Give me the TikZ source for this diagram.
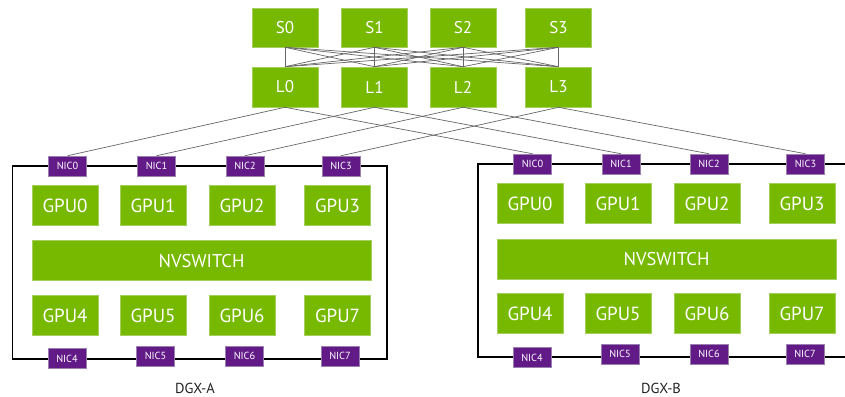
\documentclass[tikz,border=0pt]{standalone}
\usepackage{fontspec}
\setmainfont{PT Sans}
\definecolor{nvgreen}{HTML}{76B900}
\definecolor{nvedge}{HTML}{A2D05A}
\definecolor{nicpurple}{HTML}{621A87}
\definecolor{nicedge}{HTML}{9A7FB0}
\definecolor{linkgray}{HTML}{666666}
\definecolor{labelgray}{HTML}{222222}
\begin{document}
\begin{tikzpicture}[x=1pt,y=-1pt,
  swbox/.style={fill=nvgreen, draw=nvedge, line width=0.6pt, text=white, inner sep=0pt,
    minimum width=66pt, minimum height=39pt, font=\fontsize{17}{17}\selectfont},
  gpubox/.style={fill=nvgreen, draw=nvedge, line width=0.6pt, text=white, inner sep=0pt,
    minimum width=66pt, minimum height=40pt, font=\fontsize{19}{19}\selectfont},
  nvsbox/.style={fill=nvgreen, draw=nvedge, line width=0.6pt, text=white, inner sep=0pt,
    minimum width=339pt, minimum height=40pt, font=\fontsize{18.5}{18.5}\selectfont},
  nicbox/.style={fill=nicpurple, draw=nicedge, line width=0.5pt, text=white, inner sep=0pt,
    minimum width=38pt, minimum height=20pt, font=\fontsize{10.3}{10.3}\selectfont},
  link/.style={draw=linkgray, line width=0.7pt},
  chassis/.style={draw=black, line width=1.5pt},
  dgxlabel/.style={text=labelgray, font=\fontsize{14.5}{14.5}\selectfont, inner sep=0pt, anchor=base}
]
\useasboundingbox (0,0) rectangle (845,396);

% spine and leaf
\foreach \i/\x in {0/285,1/374.5,2/463,3/558.5} {
  \node[swbox] (S\i) at (\x,27.5) {S\i};
  \node[swbox, minimum height=40pt] (L\i) at (\x,87) {L\i};
}

% chassis outlines
\draw[chassis] (12.7,166) rectangle (387,359);
\draw[chassis] (850,164) -- (478,164) -- (478,357) -- (850,357);

% DGX-A
\foreach \i/\x in {0/65,1/153,2/242,3/337.5} {
  \node[gpubox] (AG\i) at (\x,205.5) {GPU\i};
}
\foreach \i/\x in {4/65,5/153,6/242,7/337.5} {
  \node[gpubox] (AG\i) at (\x,315.5) {GPU\i};
}
\node[nvsbox] (ANV) at (201.5,260.7) {NVSWITCH};
\foreach \i/\x in {0/67.5,1/156.5,2/245,3/341} {
  \node[nicbox] (AN\i) at (\x,166) {NIC\i};
}
\node[nicbox] (AN4) at (67,358.5) {NIC4};
\node[nicbox] (AN5) at (155.5,356) {NIC5};
\node[nicbox] (AN6) at (244.5,356) {NIC6};
\node[nicbox] (AN7) at (340,356) {NIC7};
\node[dgxlabel] (ALab) at (195,393.5) {DGX-A};

% DGX-B
\foreach \i/\x in {0/530,1/618,2/707,3/802} {
  \node[gpubox] (BG\i) at (\x,203.5) {GPU\i};
}
\foreach \i/\x in {4/530,5/618,6/707,7/802} {
  \node[gpubox] (BG\i) at (\x,313.5) {GPU\i};
}
\node[nvsbox] (BNV) at (666.5,259) {NVSWITCH};
\foreach \i/\x in {0/532.5,1/621,2/709,3/805.5} {
  \node[nicbox] (BN\i) at (\x,164) {NIC\i};
}
\node[nicbox] (BN4) at (532,357.5) {NIC4};
\node[nicbox] (BN5) at (620,354) {NIC5};
\node[nicbox] (BN6) at (709,354) {NIC6};
\node[nicbox] (BN7) at (805,354) {NIC7};
\node[dgxlabel] (BLab) at (661,393.5) {DGX-B};

% links
\foreach \s in {0,1,2,3} {
  \foreach \l in {0,1,2,3} {
    \draw[link] (S\s.south) -- (L\l.north);
  }
}
\foreach \i in {0,1,2,3} {
  \draw[link] (L\i.south) -- (AN\i.north);
  \draw[link] (L\i.south) -- (BN\i.north);
}
\end{tikzpicture}
\end{document}
